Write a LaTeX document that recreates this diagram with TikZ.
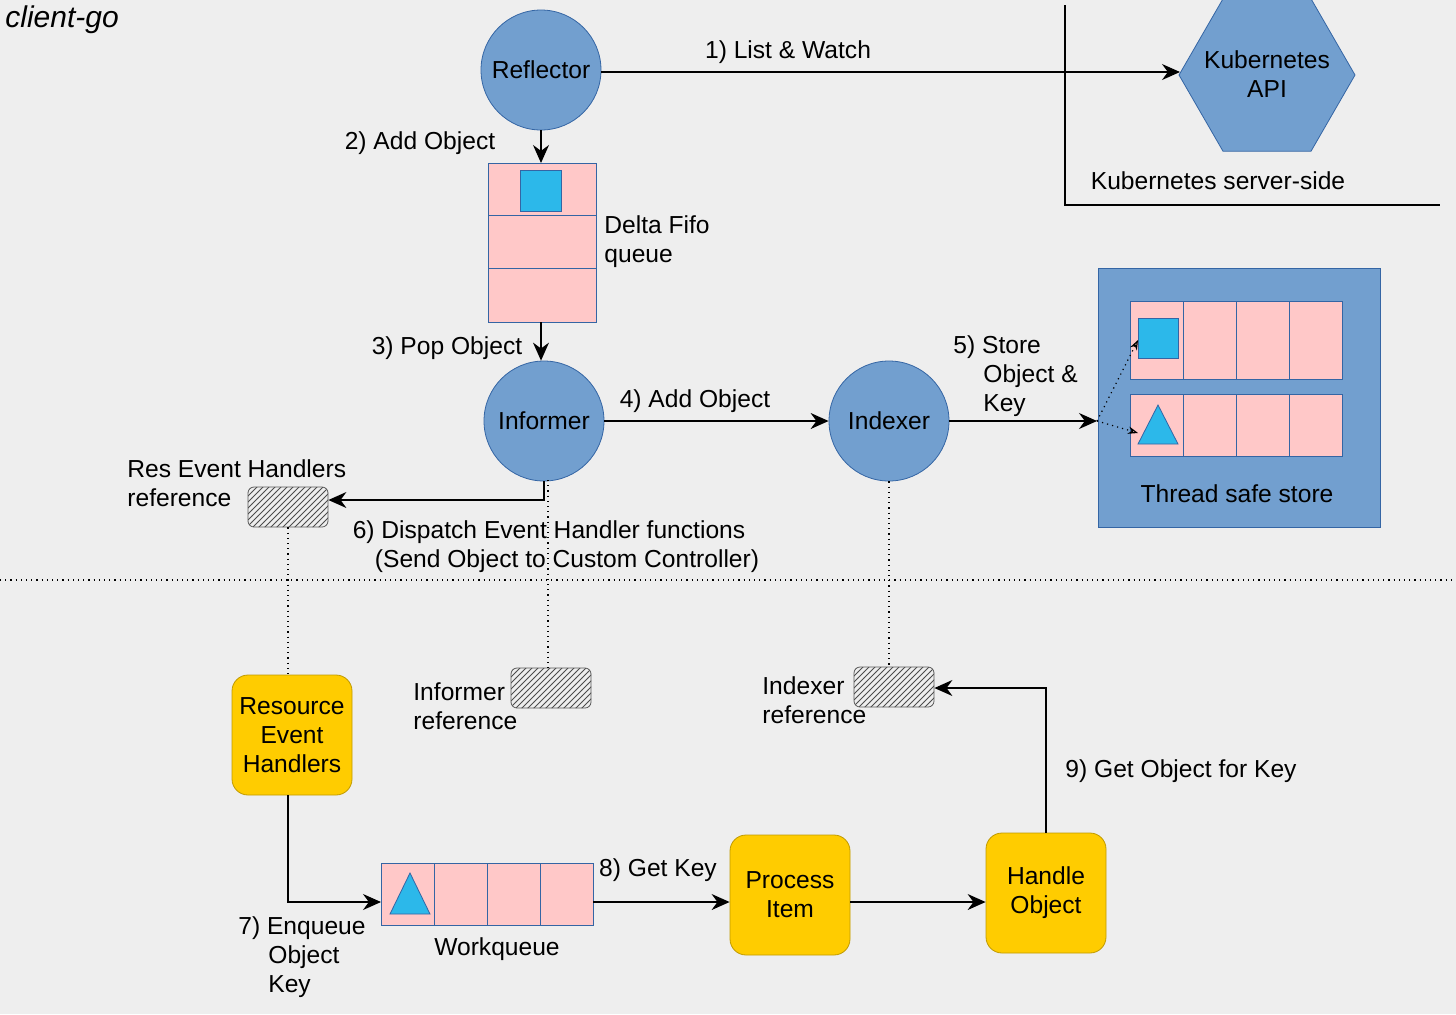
\documentclass[tikz,border=0pt]{standalone}
\usepackage{fontspec}
\setmainfont{Liberation Sans}
\usetikzlibrary{arrows.meta,patterns,shapes.geometric}
\definecolor{bg}{HTML}{EEEEEE}
\definecolor{cfill}{HTML}{729FCF}
\definecolor{cedge}{HTML}{3465A4}
\definecolor{pink}{HTML}{FFC8C8}
\definecolor{yel}{HTML}{FFCC00}
\definecolor{yedge}{HTML}{C09A00}
\definecolor{cyanb}{HTML}{2CB8EA}
\begin{document}
\begin{tikzpicture}[x=0.5pt,y=-0.5pt,
  font=\fontsize{12.3}{14.6}\selectfont,
  circ/.style={circle,fill=cfill,draw=cedge,minimum size=60pt,inner sep=0pt},
  cell/.style={fill=pink,draw=cedge,line width=0.5pt},
  yb/.style={rounded corners=8pt,fill=yel,draw=yedge,minimum width=60pt,minimum height=60pt,align=center,inner sep=1pt},
  hatch/.style={draw=gray!70!black,pattern=north east lines,pattern color=black!70,rounded corners=3pt,minimum width=40pt,minimum height=20pt,inner sep=0pt},
  arr/.style={-{Stealth[length=9pt,width=8pt]},line width=0.6pt},
  dot/.style={dotted,line width=0.6pt},
  lbl/.style={align=left,inner sep=0pt}]
\fill[bg] (0,0) rectangle (1456,1014);
\useasboundingbox (0,0) rectangle (1456,1014);
\node[lbl,anchor=west,font=\fontsize{15}{17}\selectfont\itshape] at (5,20) {client-go};
% server side
\draw[line width=0.6pt] (1065,5) -- (1065,205) -- (1440,205);
\node[regular polygon,regular polygon sides=6,shape border rotate=0,minimum size=88pt,fill=cfill,draw=cedge,inner sep=0pt] (api) at (1267,75) {};
\node[align=center] at (1267,74) {Kubernetes\\API};
\coordinate (apiw) at (1180,72);
\node[lbl] at (1218,181) {Kubernetes server-side};
% reflector
\node[circ] (ref) at (541,70) {Reflector};
\draw[arr] (ref.east |- apiw) -- (apiw);
\node[lbl] at (788,52) {1) List \& Watch};
% delta fifo
\draw[cell] (488,163) rectangle (596,215);
\draw[cell] (488,215) rectangle (596,268);
\draw[cell] (488,268) rectangle (596,322);
\draw[fill=cyanb,draw=cedge] (520,170) rectangle (561,211);
\coordinate (fifot) at (541,163);
\coordinate (fifob) at (541,322);
\draw[arr] (ref.south) -- (fifot);
\node[lbl] at (420,143) {2) Add Object};
\node[lbl,anchor=west] at (604,242) {Delta Fifo\\queue};
% informer
\node[circ] (inf) at (544,421) {Informer};
\draw[arr] (fifob) -- (inf.north -| fifob);
\node[lbl] at (447,348) {3) Pop Object};
\node[circ] (idx) at (889,421) {Indexer};
\draw[arr] (inf.east) -- (idx.west);
\node[lbl] at (695,401) {4) Add Object};
% store
\draw[fill=cfill,draw=cedge] (1098,268) rectangle (1380,527);
\foreach \i in {0,1,2,3}{
 \draw[cell] (1130+53*\i,301) rectangle (1183+53*\i,379);
 \draw[cell] (1130+53*\i,394) rectangle (1183+53*\i,456);}
\draw[fill=cyanb,draw=cedge] (1138,318) rectangle (1178,358);
\draw[fill=cyanb,draw=cedge] (1158,405) -- (1178,444) -- (1138,444) -- cycle;
\coordinate (store) at (1097,421);
\coordinate (s1) at (1138,340);
\coordinate (s2) at (1138,433);
\draw[arr] (idx.east) -- (store);
\draw[dot,-{Stealth[length=5pt,open]}] (store) -- (s1);
\draw[dot,-{Stealth[length=5pt,open]}] (store) -- (s2);
\node[lbl,anchor=north west] at (953,335) {5) Store\\\hspace*{15pt}Object \&\\\hspace*{15pt}Key};
\node[lbl] at (1237,494) {Thread safe store};
% res event handlers reference
\node[hatch] (reh) at (288,507) {};
\draw[arr] (inf.south) -- (544,500) -- (reh.east |- 0,500);
\node[lbl,anchor=west] at (127,483) {Res Event Handlers\\reference};
\node[lbl] at (549,532) {6) Dispatch Event Handler functions};
\node[lbl] at (567,561) {(Send Object to Custom Controller)};
\draw[dot] (0,580) -- (1456,580);
% lower
\node[hatch] (infr) at (551,688) {};
\node[lbl,anchor=west] at (413,706) {Informer\\reference};
\node[hatch] (idxr) at (894,687) {};
\node[lbl,anchor=west] at (762,700) {Indexer\\reference};
\draw[dot] (548,480) -- (548,668);
\draw[dot] (idx.south) -- (889,667);
\node[yb] (res) at (292,735) {Resource\\Event\\Handlers};
\draw[dot] (reh.south) -- (res.north -| reh.south);
% workqueue
\foreach \i in {0,1,2,3}{\draw[cell] (381+53*\i,863) rectangle (434+53*\i,925);}
\draw[fill=cyanb,draw=cedge] (410,873) -- (430,914) -- (390,914) -- cycle;
\coordinate (wqw) at (381,902);
\coordinate (wqe) at (593,902);
\draw[arr] (288,795) -- (288,902) -- (wqw);
\node[lbl,anchor=north west] at (238,916) {7) Enqueue\\\hspace*{15pt}Object\\\hspace*{15pt}Key};
\node[lbl] at (497,949) {Workqueue};
\node[yb] (proc) at (790,895) {Process\\Item};
\draw[arr] (wqe) -- (proc.west |- wqe);
\node[lbl] at (658,870) {8) Get Key};
\node[yb] (hand) at (1046,893) {Handle\\Object};
\draw[arr] (proc.east |- 0,902) -- (hand.west |- 0,902);
\draw[arr] (hand.north) -- (1046,688) -- (idxr.east |- 0,688);
\node[lbl] at (1181,771) {9) Get Object for Key};
\end{tikzpicture}
\end{document}
